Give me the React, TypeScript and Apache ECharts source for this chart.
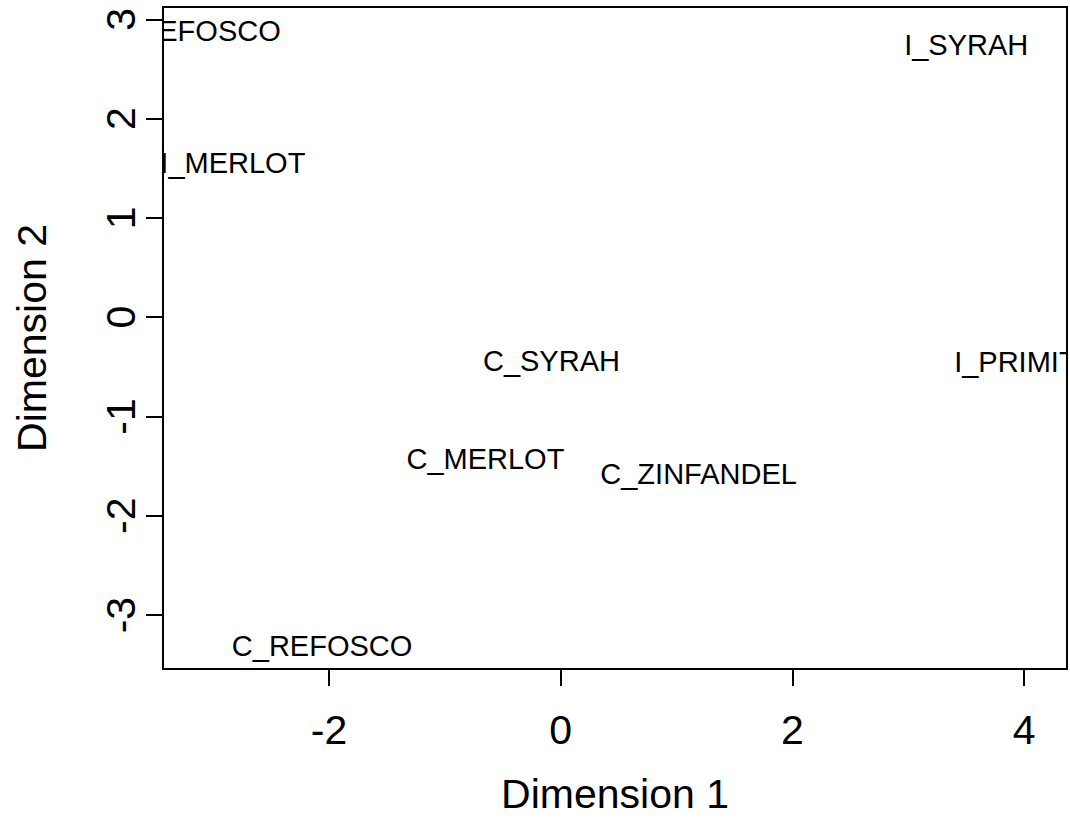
import React, { useEffect, useRef } from "react";
import * as echarts from "echarts";

const labels = ["I_REFOSCO", "I_MERLOT", "I_SYRAH", "I_PRIMITIVO", "C_SYRAH", "C_MERLOT", "C_ZINFANDEL", "C_REFOSCO"];
const dimension1 = [-3.14, -2.83, 3.5, 4.14, -0.08, -0.65, 1.19, -2.06];
const dimension2 = [2.88, 1.55, 2.74, -0.45, -0.44, -1.43, -1.58, -3.31];
const xTicks = [-2, 0, 2, 4];
const yTicks = [-3, -2, -1, 0, 1, 2, 3];

const FONT = "'Liberation Sans', Arial, sans-serif";

export default function App() {
  const ref = useRef<HTMLDivElement>(null);
  useEffect(() => {
    document.body.style.margin = "0";
    const chart = echarts.init(ref.current!, null, { renderer: "svg" });
    chart.setOption({
      animation: false,
      backgroundColor: "#fff",
      grid: {
        left: 163,
        top: 7,
        right: 3,
        bottom: 153,
        show: true,
        borderColor: "#000",
        borderWidth: 2,
        backgroundColor: "transparent",
      },
      xAxis: {
        type: "value",
        min: -3.433,
        max: 4.37,
        name: "Dimension 1",
        nameLocation: "middle",
        nameGap: 104,
        nameTextStyle: { fontSize: 41, color: "#000", fontFamily: FONT },
        axisLine: { show: false, onZero: false },
        splitLine: { show: false },
        axisTick: {
          show: true,
          inside: false,
          length: 17,
          customValues: xTicks,
          lineStyle: { color: "#000", width: 2 },
        },
        axisLabel: {
          show: true,
          customValues: xTicks,
          margin: 40,
          fontSize: 41,
          color: "#000",
          fontFamily: FONT,
        },
      },
      yAxis: {
        type: "value",
        min: -3.543,
        max: 3.124,
        name: "Dimension 2",
        nameLocation: "middle",
        nameRotate: 90,
        nameGap: 111,
        nameTextStyle: { fontSize: 41, color: "#000", fontFamily: FONT },
        axisLine: { show: false, onZero: false },
        splitLine: { show: false },
        axisTick: {
          show: true,
          inside: false,
          length: 17,
          customValues: yTicks,
          lineStyle: { color: "#000", width: 2 },
        },
        axisLabel: {
          show: true,
          customValues: yTicks,
          rotate: 90,
          margin: 22,
          fontSize: 41,
          color: "#000",
          fontFamily: FONT,
        },
      },
      series: [
        {
          type: "custom",
          clip: true,
          data: labels.map((n, i) => [dimension1[i], dimension2[i], i]),
          renderItem: (params: any, api: any) => {
            const p = api.coord([api.value(0), api.value(1)]);
            const idx = api.value(2);
            return {
              type: "text",
              x: p[0],
              y: p[1],
              style: {
                text: labels[idx],
                fill: "#000",
                fontSize: 29,
                fontFamily: FONT,
                align: "center",
                verticalAlign: "middle",
              },
            };
          },
        },
      ],
    });
    return () => chart.dispose();
  }, []);
  return <div ref={ref} style={{ width: 1070, height: 822 }} />;
}
